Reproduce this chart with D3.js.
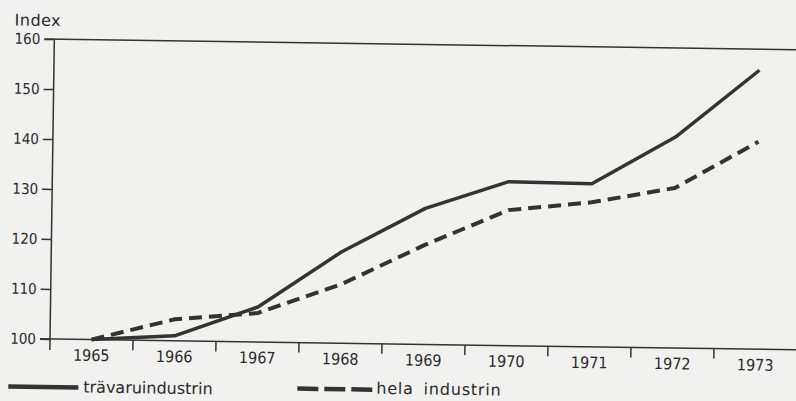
<!DOCTYPE html>
<html>
<head>
<meta charset="utf-8">
<script src="https://cdn.jsdelivr.net/npm/d3@7"></script>
<style>
  html, body { margin: 0; padding: 0; background: #f1f1ef; }
  svg { display: block; }
  text { fill: #2a2a2a; }
</style>
</head>
<body>
<svg id="chart" width="796" height="401"></svg>
<script>
const years = ["1965","1966","1967","1968","1969","1970","1971","1972","1973"];
const travaru = [100, 101, 107, 118.3, 127.2, 132.8, 132.6, 142.2, 155.8];
const helaIndustrin = [100, 104.3, 105.8, 111.8, 119.9, 127.1, 128.9, 132, 141.5];
const yTicks = [100, 110, 120, 130, 140, 150, 160];
const seriesNames = ["trävaruindustrin", "hela industrin"];
const yTitle = "Index";

const ink = "#333";
const numFont = "DejaVu Sans Condensed, Liberation Sans, Arial, sans-serif";
const txtFont = "DejaVu Sans, sans-serif";
const svg = d3.select("#chart");
const g = svg.append("g").attr("transform", "rotate(0.83, 50, 339)");

const x = d3.scaleBand().domain(years).range([50, 797]);
const y = d3.scaleLinear().domain([100, 160]).range([339, 39]);

// frame top line at 160
g.append("line").attr("x1", 40).attr("x2", 820).attr("y1", y(160)).attr("y2", y(160))
  .attr("stroke", ink).attr("stroke-width", 1.5);

// y axis
const yAxis = g.append("g").attr("transform", "translate(50,0)")
  .call(d3.axisLeft(y).tickValues(yTicks).tickSize(10).tickPadding(4));
yAxis.select(".domain").remove();
yAxis.selectAll(".tick line").attr("stroke", ink).attr("stroke-width", 1.5);
yAxis.selectAll(".tick text").attr("font-family", numFont)
  .attr("font-size", 15).attr("fill", "#2a2a2a");
g.append("line").attr("x1", 50).attr("x2", 50).attr("y1", y(160)).attr("y2", 350)
  .attr("stroke", ink).attr("stroke-width", 1.5);

// x axis
g.append("line").attr("x1", 40).attr("x2", 820).attr("y1", y(100)).attr("y2", y(100))
  .attr("stroke", ink).attr("stroke-width", 1.5);
const xAxis = g.append("g").attr("transform", `translate(0,${y(100)})`)
  .call(d3.axisBottom(x).tickSize(0).tickPadding(10));
xAxis.select(".domain").remove();
xAxis.selectAll(".tick text").attr("font-family", numFont)
  .attr("font-size", 16).attr("fill", "#2a2a2a");
g.selectAll(".xtick").data(years.slice(1)).join("line").attr("class", "xtick")
  .attr("x1", d => x(d)).attr("x2", d => x(d))
  .attr("y1", y(100)).attr("y2", y(100) + 10)
  .attr("stroke", ink).attr("stroke-width", 1.5);

// title
g.append("text").attr("x", 10).attr("y", 26).text(yTitle)
  .attr("font-family", txtFont).attr("font-size", 16)
  .attr("letter-spacing", 0.5);

// lines
const line = d3.line().x((d, i) => x(years[i]) + x.bandwidth() / 2).y(d => y(d));
g.append("path").datum(travaru).attr("d", line)
  .attr("fill", "none").attr("stroke", ink).attr("stroke-width", 3.5)
  .attr("stroke-linejoin", "round");
g.append("path").datum(helaIndustrin).attr("d", line)
  .attr("fill", "none").attr("stroke", ink).attr("stroke-width", 4)
  .attr("stroke-dasharray", "13,7");

// legend
g.append("line").attr("x1", 9).attr("x2", 79).attr("y1", 387).attr("y2", 387)
  .attr("stroke", ink).attr("stroke-width", 4.5);
g.append("text").attr("x", 84).attr("y", 392).text(seriesNames[0])
  .attr("font-family", txtFont).attr("font-size", 16)
  .attr("letter-spacing", 0);
g.append("line").attr("x1", 298).attr("x2", 374).attr("y1", 385).attr("y2", 385)
  .attr("stroke", ink).attr("stroke-width", 4.5).attr("stroke-dasharray", "21,6");
g.append("text").attr("x", 377).attr("y", 389).text(seriesNames[1])
  .attr("font-family", txtFont).attr("font-size", 16)
  .attr("letter-spacing", 0.8).attr("word-spacing", 4);
</script>
</body>
</html>
